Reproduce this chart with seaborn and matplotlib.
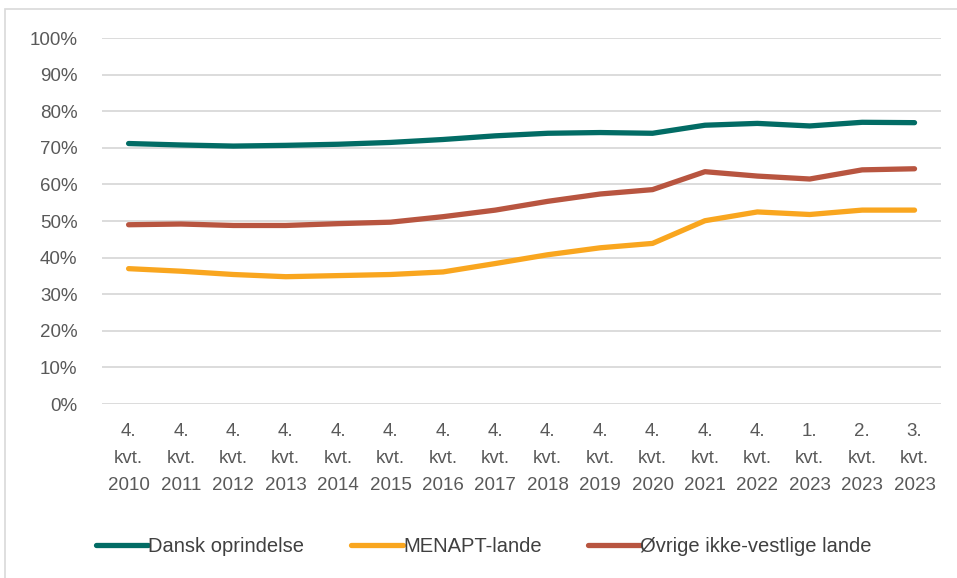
"""Beskæftigelsesfrekvens efter oprindelse, 2010-2023 (linjediagram)."""

import matplotlib.pyplot as plt
import pandas as pd
import seaborn as sns
from matplotlib.patches import Rectangle
from matplotlib.ticker import FuncFormatter


KVARTALER = ["4.", "4.", "4.", "4.", "4.", "4.", "4.", "4.", "4.", "4.", "4.", "4.", "4.", "1.", "2.", "3."]
AAR = ["2010", "2011", "2012", "2013", "2014", "2015", "2016", "2017",
       "2018", "2019", "2020", "2021", "2022", "2023", "2023", "2023"]

DANSK = [71.2, 70.8, 70.5, 70.7, 71.0, 71.5, 72.3, 73.3, 74.0, 74.2, 74.0, 76.2, 76.7, 76.0, 77.0, 76.9]
MENAPT = [37.0, 36.3, 35.4, 34.8, 35.1, 35.4, 36.1, 38.4, 40.8, 42.7, 43.9, 50.1, 52.5, 51.8, 53.0, 53.0]
OEVRIGE = [49.0, 49.2, 48.8, 48.8, 49.3, 49.7, 51.2, 53.0, 55.4, 57.4, 58.6, 63.5, 62.3, 61.5, 64.0, 64.3]

SERIER = ["Dansk oprindelse", "MENAPT-lande", "Øvrige ikke-vestlige lande"]
FARVER = ["#026c65", "#f9a61f", "#b85540"]


def main() -> None:
    sns.set_theme(style="white")
    plt.rcParams["font.family"] = ["Liberation Sans Narrow", "Liberation Sans", "DejaVu Sans"]

    labels = [f"{k}\nkvt.\n{a}" for k, a in zip(KVARTALER, AAR)]
    df = pd.DataFrame({
        "x": list(range(len(labels))) * 3,
        "andel": DANSK + MENAPT + OEVRIGE,
        "serie": [SERIER[0]] * len(labels) + [SERIER[1]] * len(labels) + [SERIER[2]] * len(labels),
    })

    fig = plt.figure(figsize=(9.57, 5.78), dpi=100)
    ax = fig.add_axes([0.107, 0.301, 0.876, 0.633])

    # grå ramme om figuren som i Excel-udgaven
    fig.patches.append(Rectangle((5 / 957, -0.05), 1.1, 1.05 - 9 / 578, transform=fig.transFigure,
                                 fill=False, edgecolor="#d9d9d9", linewidth=1.2))

    sns.lineplot(data=df, x="x", y="andel", hue="serie", palette=FARVER, linewidth=3.8,
                 ax=ax, legend=True, solid_capstyle="round")

    ax.set_xlim(-0.5, len(labels) - 0.5)
    ax.set_ylim(0, 100)
    ax.set_yticks(range(0, 101, 10))
    ax.yaxis.set_major_formatter(FuncFormatter(lambda v, _: f"{v:.0f}%"))
    ax.set_xticks(range(len(labels)))
    ax.set_xticklabels(labels, linespacing=1.75)
    ax.tick_params(axis="both", labelsize=13.5, colors="#595959", length=0)
    ax.tick_params(axis="x", pad=14)
    ax.tick_params(axis="y", pad=18)
    ax.grid(axis="y", color="#d9d9d9", linewidth=1.3)
    ax.set_axisbelow(True)
    for spine in ax.spines.values():
        spine.set_visible(False)
    ax.set_xlabel("")
    ax.set_ylabel("")

    ax.legend(loc="center", bbox_to_anchor=(0.455, -0.39), ncol=3, frameon=False, fontsize=14.5,
              handlelength=2.6, handletextpad=0.0, columnspacing=2.3, labelcolor="#404040")

    fig.savefig("out.png", dpi=100)
    plt.close(fig)


if __name__ == "__main__":
    main()
